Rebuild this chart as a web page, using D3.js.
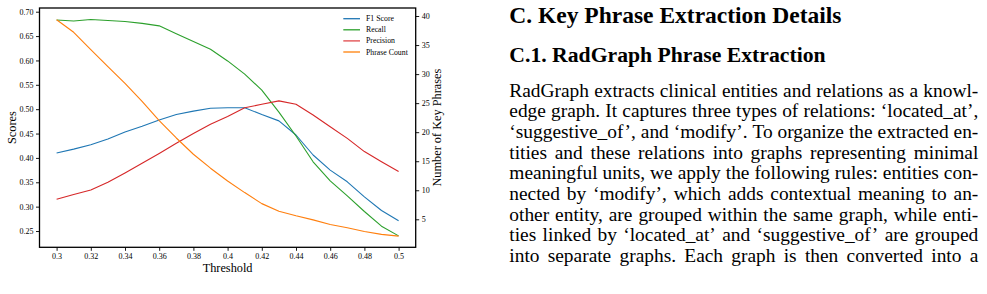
<!DOCTYPE html>
<html>
<head>
<meta charset="utf-8">
<script src="https://cdn.jsdelivr.net/npm/d3@7"></script>
<style>
html,body{margin:0;padding:0;background:#fff;width:987px;height:294px;overflow:hidden;}
svg{display:block;}
text{font-family:"Liberation Serif","Times New Roman",Times,serif;fill:#000;}
</style>
</head>
<body>
<svg id="fig" width="987" height="294"></svg>
<script>
// ---------------- data ----------------
const thresholds = [0.30,0.31,0.32,0.33,0.34,0.35,0.36,0.37,0.38,0.39,0.40,0.41,0.42,0.43,0.44,0.45,0.46,0.47,0.48,0.49,0.50];
const f1Score    = [0.410,0.418,0.427,0.439,0.453,0.465,0.478,0.489,0.496,0.502,0.503,0.503,0.489,0.476,0.447,0.406,0.375,0.351,0.320,0.292,0.271];
const recall     = [0.683,0.681,0.684,0.682,0.680,0.676,0.671,0.655,0.639,0.623,0.599,0.572,0.539,0.494,0.445,0.392,0.353,0.322,0.290,0.260,0.240];
const precision  = [0.315,0.325,0.334,0.350,0.369,0.389,0.409,0.430,0.450,0.469,0.485,0.503,0.510,0.517,0.510,0.488,0.464,0.440,0.413,0.392,0.372];
const phraseCount= [39.35,37.2,34.2,31.3,28.4,25.3,22.0,19.0,16.2,13.8,11.6,9.6,7.7,6.4,5.6,4.9,4.1,3.55,2.9,2.4,2.1];
const seriesNames = ["F1 Score","Recall","Precision","Phrase Count"];
const xTicks = [0.30,0.32,0.34,0.36,0.38,0.40,0.42,0.44,0.46,0.48,0.50];
const xTickLabels = ["0.3","0.32","0.34","0.36","0.38","0.4","0.42","0.44","0.46","0.48","0.5"];
const scoreTicks = [0.25,0.30,0.35,0.40,0.45,0.50,0.55,0.60,0.65,0.70];
const countTicks = [5,10,15,20,25,30,35,40];
const xLabel = "Threshold";
const yLabelLeft = "Scores";
const yLabelRight = "Number of Key Phrases";
const heading1 = "C. Key Phrase Extraction Details";
const heading2 = "C.1. RadGraph Phrase Extraction";
const bodyLines = [
  "RadGraph extracts clinical entities and relations as a knowl-",
  "edge graph. It captures three types of relations: \u2018located_at\u2019,",
  "\u2018suggestive_of\u2019, and \u2018modify\u2019. To organize the extracted en-",
  "tities and these relations into graphs representing minimal",
  "meaningful units, we apply the following rules: entities con-",
  "nected by \u2018modify\u2019, which adds contextual meaning to an-",
  "other entity, are grouped within the same graph, while enti-",
  "ties linked by \u2018located_at\u2019 and \u2018suggestive_of\u2019 are grouped",
  "into separate graphs. Each graph is then converted into a"
];

// ---------------- layout ----------------
const svg = d3.select("#fig");
const L = 39.5, R = 415.7, T = 8, B = 247.3;
const colors = ["#1f77b4","#2ca02c","#d62728","#ff7f0e"];

const x  = d3.scaleLinear().domain([0.29,0.51]).range([L,R]);
const yL = d3.scaleLinear().domain([0.2166,0.7076]).range([B,T]);
const yR = d3.scaleLinear().domain([0.18,41.38]).range([B,T]);

const g = svg.append("g");

// axes
const xAxis = d3.axisBottom(x).tickValues(xTicks).tickFormat((d,i)=>xTickLabels[i]).tickSize(3.5).tickPadding(2.5);
const yAxisL = d3.axisLeft(yL).tickValues(scoreTicks).tickFormat(d3.format(".2f")).tickSize(3.5).tickPadding(2.5);
const yAxisR = d3.axisRight(yR).tickValues(countTicks).tickFormat(d3.format("d")).tickSize(3.5).tickPadding(2.5);

function styleAxis(sel){
  sel.select(".domain").remove();
  sel.selectAll(".tick line").attr("stroke","#000").attr("stroke-width",0.9);
  sel.selectAll(".tick text").style("font-family",'"Liberation Serif","Times New Roman",serif').style("font-size","8px").attr("fill","#222");
}
g.append("g").attr("transform",`translate(0,${B})`).call(xAxis).call(styleAxis);
g.append("g").attr("transform",`translate(${L},0)`).call(yAxisL).call(styleAxis);
g.append("g").attr("transform",`translate(${R},0)`).call(yAxisR).call(styleAxis);

// lines (left axis)
const scoreSeries = [f1Score, recall, precision];
scoreSeries.forEach((vals,i)=>{
  const line = d3.line().x((d,j)=>x(thresholds[j])).y(d=>yL(d));
  g.append("path").attr("d",line(vals)).attr("fill","none").attr("stroke",colors[i]).attr("stroke-width",1.1).attr("stroke-linejoin","round");
});
// twin axis line
const lineR = d3.line().x((d,j)=>x(thresholds[j])).y(d=>yR(d));
g.append("path").attr("d",lineR(phraseCount)).attr("fill","none").attr("stroke",colors[3]).attr("stroke-width",1.1).attr("stroke-linejoin","round");

// frame
g.append("rect").attr("x",L).attr("y",T).attr("width",R-L).attr("height",B-T).attr("fill","none").attr("stroke","#000").attr("stroke-width",1.3);

// axis labels
g.append("text").attr("x",(L+R)/2).attr("y",271.5).attr("text-anchor","middle").style("font-size","12.3px").text(xLabel);
g.append("text").attr("transform",`translate(15.5,${(T+B)/2}) rotate(-90)`).attr("text-anchor","middle").style("font-size","12.3px").text(yLabelLeft);
g.append("text").attr("transform",`translate(441,${(T+B)/2}) rotate(-90)`).attr("text-anchor","middle").style("font-size","12.3px").text(yLabelRight);

// legend
const legendColors = ["#1f77b4","#2ca02c","#e0474a","#ffad60"];
const leg = g.append("g");
seriesNames.forEach((name,i)=>{
  const yy = 18.7 + i*11.1;
  leg.append("line").attr("x1",343.3).attr("x2",360).attr("y1",yy).attr("y2",yy)
     .attr("stroke",legendColors[i]).attr("stroke-width", i===3?2:1.3);
  leg.append("text").attr("x",366).attr("y",yy).attr("dy","0.33em").style("font-size","7.8px").attr("fill","#222").text(name);
});

// ---------------- right text column ----------------
const tx = 509.3, colW = 469;
svg.append("text").attr("x",tx).attr("y",23.3).style("font-size","23.5px").style("font-weight","bold").text(heading1);
svg.append("text").attr("x",tx).attr("y",61.7).style("font-size","21.7px").style("font-weight","bold").text(heading2);

const bodySize = 19.4, lead = 20.7, firstBase = 96.5;
const tmp = svg.append("text").style("font-size",bodySize+"px");
bodyLines.forEach((ln,i)=>{
  const words = ln.split(" ");
  const widths = words.map(w=>{ tmp.text(w); return tmp.node().getComputedTextLength(); });
  const total = d3.sum(widths);
  const gap = (colW - total)/(words.length-1);
  let cx = tx;
  const t = svg.append("text").attr("y", firstBase + i*lead).style("font-size",bodySize+"px");
  words.forEach((w,k)=>{
    t.append("tspan").attr("x",cx).text(w);
    cx += widths[k] + gap;
  });
});
tmp.remove();
</script>
</body>
</html>
